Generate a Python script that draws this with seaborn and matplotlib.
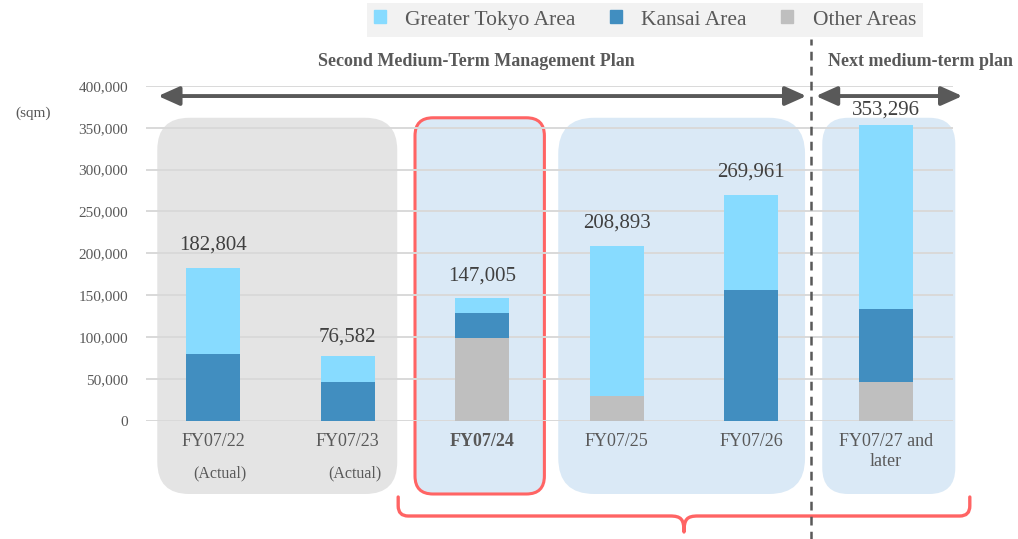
import numpy as np
import pandas as pd
import matplotlib.pyplot as plt
import seaborn as sns
from matplotlib.patches import FancyBboxPatch, PathPatch, Patch
from matplotlib.path import Path
from matplotlib.transforms import IdentityTransform, blended_transform_factory
from matplotlib.ticker import FuncFormatter

# data (sqm)
years = ['FY07/22', 'FY07/23', 'FY07/24', 'FY07/25', 'FY07/26', 'FY07/27 and\nlater']
totals = [182804, 76582, 147005, 208893, 269961, 353296]
tokyo = [102804, 30582, 18005, 179893, 113961, 219796]
kansai = [80000, 46000, 30000, 0, 156000, 87000]
other = [0, 0, 99000, 29000, 0, 46500]
legend_labels = ['Greater Tokyo Area', 'Kansai Area', 'Other Areas']

C_TOKYO = '#87DBFF'
C_KANSAI = '#418EC0'
C_OTHER = '#BFBFBF'
C_GRAYBOX = '#E4E4E4'
C_BLUEBOX = '#DAE9F6'
C_RED = '#FF6464'
C_TEXT = '#595959'
C_DARK = '#404040'

df = pd.DataFrame({'year': years, 'tokyo': tokyo, 'kansai': kansai, 'other': other})
df['k_top'] = df['other'] + df['kansai']
df['t_top'] = df['k_top'] + df['tokyo']

sns.set_style('white')
plt.rcParams['font.family'] = ['Liberation Serif', 'DejaVu Serif']

W, H = 1018, 539
fig = plt.figure(figsize=(W / 100, H / 100), dpi=100)
ax = fig.add_axes([146 / W, 118.5 / H, 807 / W, 334.5 / H])
ax.patch.set_alpha(0)

for col, c in [('t_top', C_TOKYO), ('k_top', C_KANSAI), ('other', C_OTHER)]:
    sns.barplot(data=df, x='year', y=col, color=c, width=0.4, saturation=1,
                edgecolor='none', linewidth=0, ax=ax, zorder=3)

ax.set_xlim(-0.5, 5.5)
ax.set_ylim(0, 400000)
ax.set_yticks(np.arange(0, 400001, 50000))
ax.yaxis.set_major_formatter(FuncFormatter(lambda v, p: f'{int(v):,}'))
ax.yaxis.grid(True, color='#D9D9D9', lw=1.4, zorder=1)
ax.set_axisbelow(True)
sns.despine(ax=ax, left=True, bottom=True)
ax.set_xlabel('')
ax.set_ylabel('')
ax.tick_params(axis='y', length=0, pad=13, labelsize=11, labelcolor=C_TEXT)
ax.tick_params(axis='x', length=0, pad=9, labelsize=13, labelcolor=C_TEXT)
ax.set_xticks(range(len(years)))
ax.set_xticklabels(years, linespacing=1.25)
ax.get_xticklabels()[2].set_fontweight('bold')
ax.axhline(0, color='#D9D9D9', lw=1.4, zorder=1)

# background rounded panels (data x span, rounding px, fill, edge)
panels = [(-0.416, 1.368, 32, C_GRAYBOX, 'none'),
          (1.500, 2.462, 18, C_BLUEBOX, C_RED),
          (2.565, 4.400, 36, C_BLUEBOX, 'none'),
          (4.528, 5.517, 26, C_BLUEBOX, 'none')]
panel_top = 362000
panel_bottom_px = 45
for x0, x1, r, fc, ec in panels:
    (px0, py1) = ax.transData.transform((x0, panel_top))
    (px1, _) = ax.transData.transform((x1, panel_top))
    box = FancyBboxPatch((px0, panel_bottom_px), px1 - px0, py1 - panel_bottom_px,
                         boxstyle=f'round,pad=0,rounding_size={r}',
                         transform=IdentityTransform(), facecolor=fc,
                         edgecolor=ec, lw=2.2 if ec != 'none' else 0,
                         clip_on=False, zorder=0.2)
    ax.add_patch(box)

# total labels
label_offsets = [23, 19, 22, 23, 23, 15]
for i, t in enumerate(totals):
    ax.annotate(f'{t:,}', (i, t), xytext=(0, label_offsets[i]),
                textcoords='offset pixels', ha='center', va='center',
                fontsize=15, color=C_DARK, zorder=6)

# (Actual) notes
trans = blended_transform_factory(ax.transData, ax.transAxes)
for i in [0, 1]:
    ax.text(i + 0.05, -0.157, '(Actual)', transform=trans, ha='center',
            va='center', fontsize=11.5, color=C_TEXT)

# plan arrows and titles
arrow_kw = dict(arrowstyle='<|-|>,head_length=0.85,head_width=0.38',
                color=C_TEXT, lw=2.8, mutation_scale=15,
                shrinkA=0, shrinkB=0, clip_on=False)
ax.annotate('', xy=(4.41, 388000), xytext=(-0.41, 388000),
            arrowprops=arrow_kw, annotation_clip=False)
ax.annotate('', xy=(5.57, 388000), xytext=(4.48, 388000),
            arrowprops=arrow_kw, annotation_clip=False)
ax.text(1.955, 428800, 'Second Medium-Term Management Plan', ha='center',
        va='center', fontsize=13, fontweight='bold', color=C_TEXT, clip_on=False)
ax.text(5.26, 428800, 'Next medium-term plan', ha='center', va='center',
        fontsize=13, fontweight='bold', color=C_TEXT, clip_on=False)

ax.axvline(4.446, ymin=-0.36, ymax=1.14, clip_on=False, color=C_TEXT,
           lw=1.8, ls=(0, (3.5, 2.5)), zorder=5)

# red brace under the plan years
xl = ax.transData.transform((1.375, 0))[0]
xr = ax.transData.transform((5.625, 0))[0]
xm = ax.transData.transform((3.5, 0))[0]
yt, yh, ytip, rr = 42, 23, 7, 10
verts = [(xl, yt), (xl, yh + rr), (xl, yh), (xl + rr, yh),
         (xm - 14, yh), (xm - 3, yh), (xm, yh - 3), (xm, ytip),
         (xm, yh - 3), (xm + 3, yh), (xm + 14, yh),
         (xr - rr, yh), (xr, yh), (xr, yh + rr), (xr, yt)]
codes = [Path.MOVETO, Path.LINETO, Path.CURVE3, Path.CURVE3,
         Path.LINETO, Path.CURVE4, Path.CURVE4, Path.CURVE4,
         Path.CURVE4, Path.CURVE4, Path.CURVE4,
         Path.LINETO, Path.CURVE3, Path.CURVE3, Path.LINETO]
ax.add_patch(PathPatch(Path(verts, codes), transform=IdentityTransform(),
                       facecolor='none', edgecolor=C_RED, lw=2.4,
                       capstyle='round', joinstyle='round', clip_on=False))

fig.text(33 / W, 1 - 113 / H, '(sqm)', ha='center', va='center',
         fontsize=11, color=C_TEXT)

handles = [Patch(color=c) for c in [C_TOKYO, C_KANSAI, C_OTHER]]
fig.legend(handles, legend_labels, loc='center',
           bbox_to_anchor=(645 / W, 1 - 20 / H), ncol=3, frameon=True,
           fancybox=False, facecolor='#F2F2F2', edgecolor='none', framealpha=1,
           fontsize=15.5, labelcolor=C_TEXT, handlelength=0.55,
           handleheight=0.55, handletextpad=0.9, columnspacing=1.6,
           borderpad=0.35)

fig.savefig('out.png', dpi=100)
